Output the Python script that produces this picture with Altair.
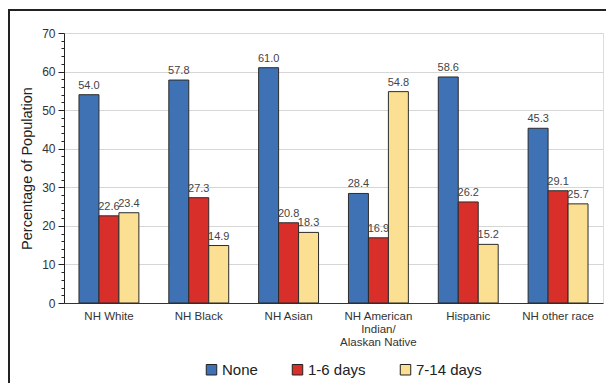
import altair as alt
import pandas as pd

categories = ["NH White", "NH Black", "NH Asian", "NH American Indian/ Alaskan Native", "Hispanic", "NH other race"]
series = ["None", "1-6 days", "7-14 days"]
none_vals = [54.0, 57.8, 61.0, 28.4, 58.6, 45.3]
days_1_6 = [22.6, 27.3, 20.8, 16.9, 26.2, 29.1]
days_7_14 = [23.4, 14.9, 18.3, 54.8, 15.2, 25.7]
colors = ["#3f72b5", "#d92f2a", "#fbdf93"]

rows = []
for s, vals in zip(series, [none_vals, days_1_6, days_7_14]):
    for c, v in zip(categories, vals):
        rows.append({"category": c, "series": s, "value": v})
df = pd.DataFrame(rows)

FONT = "Liberation Sans"

x = alt.X("category:N", sort=categories, title=None,
          scale=alt.Scale(paddingInner=0.333, paddingOuter=0.1667),
          axis=alt.Axis(labelAngle=0, ticks=False, labelFontSize=11.5, labelColor="#333",
                        labelPadding=7, domainColor="#333", labelFont=FONT, labelLineHeight=13,
                        labelExpr="datum.label == 'NH American Indian/ Alaskan Native' ? ['NH American', 'Indian/', 'Alaskan Native'] : datum.label"))
y = alt.Y("value:Q", title="Percentage of Population",
          scale=alt.Scale(domain=[0, 70], nice=False),
          axis=alt.Axis(values=list(range(0, 71, 2)),
                        labelExpr="datum.value % 10 == 0 ? datum.label : ''",
                        tickSize={"condition": {"test": "datum.value % 10 == 0", "value": 6}, "value": 3},
                        gridOpacity={"condition": {"test": "datum.value % 10 == 0", "value": 1}, "value": 0},
                        gridColor="#d6d6d6", gridWidth=1.2, tickColor="#222", domainColor="#222",
                        labelFontSize=12, labelColor="#333", labelPadding=3, labelFont=FONT,
                        titleFontSize=14.5, titleFontWeight="normal", titleColor="#222",
                        titlePadding=7, titleFont=FONT))
xo = alt.XOffset("series:N", sort=series, scale=alt.Scale(paddingInner=0, paddingOuter=0))

base = alt.Chart(df)
bars = base.mark_bar(stroke="#2b2b2b", strokeWidth=1).encode(
    x=x, y=y, xOffset=xo,
    color=alt.Color("series:N", sort=series, title=None,
                    scale=alt.Scale(domain=series, range=colors),
                    legend=alt.Legend(orient="none", legendX=140, legendY=329, direction="horizontal",
                                      symbolType="square", symbolSize=110, symbolStrokeColor="#222",
                                      symbolStrokeWidth=1, labelFontSize=15, labelColor="#222",
                                      labelFont=FONT, columnPadding=32, labelOffset=3)),
)
labels = base.mark_text(dy=-4, baseline="bottom", fontSize=11, color="#444", font=FONT).encode(
    x=x, y=y, xOffset=xo, text=alt.Text("value:Q", format=".1f"))

frame = alt.Chart(pd.DataFrame({"a": [0]})).mark_rect(
    fill=None, stroke="#222", strokeWidth=2, clip=False).encode(
    x=alt.value(-55), x2=alt.value(580), y=alt.value(-23), y2=alt.value(420))

chart = alt.layer(bars, labels, frame).properties(
    width=539, height=270,
    autosize=alt.AutoSizeParams(type="none"),
    padding={"left": 56, "top": 25, "right": 3, "bottom": 80},
).configure_view(stroke="#333", strokeWidth=1.5).configure(background="white")

chart.save("out.html", embed_options={"renderer": "svg", "actions": False})
